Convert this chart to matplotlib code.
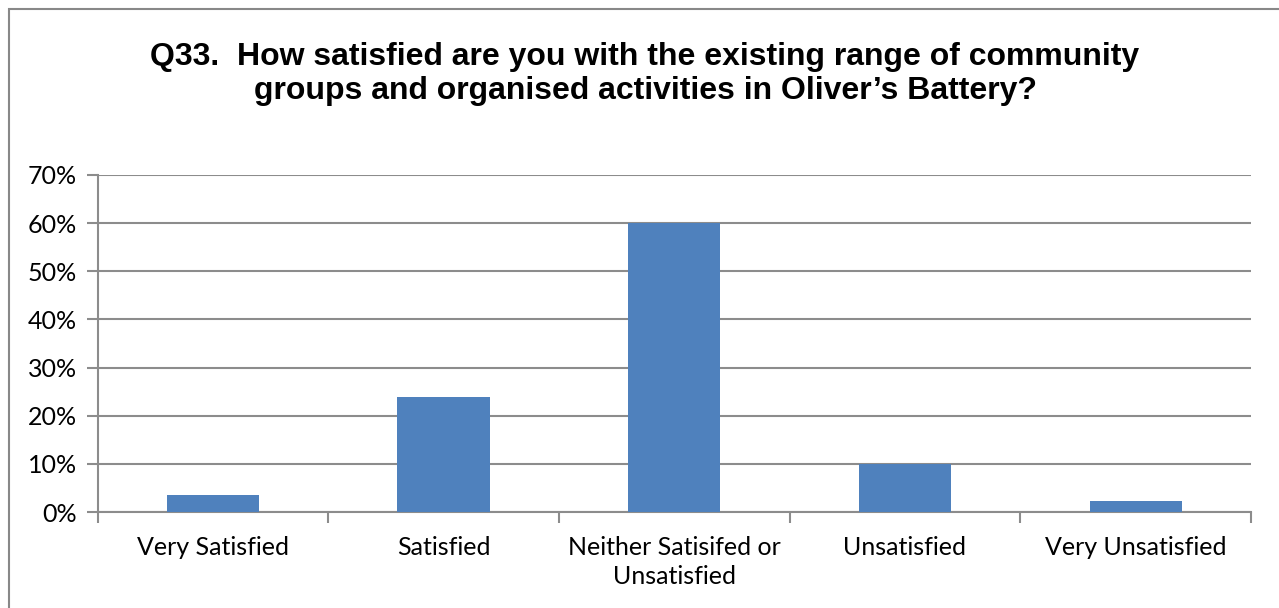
import matplotlib
matplotlib.use("Agg")
import matplotlib.pyplot as plt
from matplotlib.patches import Rectangle

categories = ["Very Satisfied", "Satisfied", "Neither Satisifed or\nUnsatisfied",
              "Unsatisfied", "Very Unsatisfied"]
values = [3.5, 23.9, 60.0, 10.0, 2.3]
yticks = [0, 10, 20, 30, 40, 50, 60, 70]
ytick_labels = ["0%", "10%", "20%", "30%", "40%", "50%", "60%", "70%"]
title = ("Q33.  How satisfied are you with the existing range of community\n"
         "groups and organised activities in Oliver\u2019s Battery?")

W, H = 1279, 608
fig = plt.figure(figsize=(W / 100, H / 100), dpi=100)
fig.patch.set_facecolor("white")

# outer chart border
fig.add_artist(Rectangle((9 / W, -0.1), 1.5, 1 - 9 / H + 0.1, transform=fig.transFigure,
                         fill=False, edgecolor="#888888", linewidth=1.5))

ax = fig.add_axes([97.5 / W, 1 - 512 / H, (1251 - 97.5) / W, (512 - 175) / H])
gray = "#8c8c8c"
x = list(range(len(categories)))
ax.bar(x, values, width=0.4, color="#4F81BD", zorder=3)
ax.set_xlim(-0.5, len(categories) - 0.5)
ax.set_ylim(0, 70)
ax.set_yticks(yticks)
ax.set_yticklabels(ytick_labels)
ax.yaxis.grid(True, color=gray, linewidth=1.5, zorder=0)
ax.set_axisbelow(True)

ax.set_xticks([i + 0.5 for i in x[:-1]] + [-0.5, len(categories) - 0.5])
ax.set_xticklabels([""] * (len(categories) + 1))
ax.set_xticks(x, minor=True)
ax.set_xticklabels(categories, minor=True)
ax.tick_params(axis="x", which="minor", length=0, pad=17)
ax.tick_params(axis="x", which="major", length=8, width=1.5, color=gray)
ax.tick_params(axis="y", length=8, width=1.5, color=gray, pad=7)

font = "Lato"
for lab in ax.get_xticklabels(minor=True) + ax.get_yticklabels():
    lab.set_fontfamily(font)
    lab.set_fontsize(18)
    lab.set_linespacing(1.35)

for s in ["top", "right"]:
    ax.spines[s].set_visible(False)
for s in ["left", "bottom"]:
    ax.spines[s].set_color(gray)
    ax.spines[s].set_linewidth(1.5)

fig.text(645 / W, 1 - 74 / H, title, ha="center", va="center", fontsize=23,
         fontweight="bold", family="Liberation Sans", linespacing=1.15)

fig.savefig("out.png", dpi=100)
